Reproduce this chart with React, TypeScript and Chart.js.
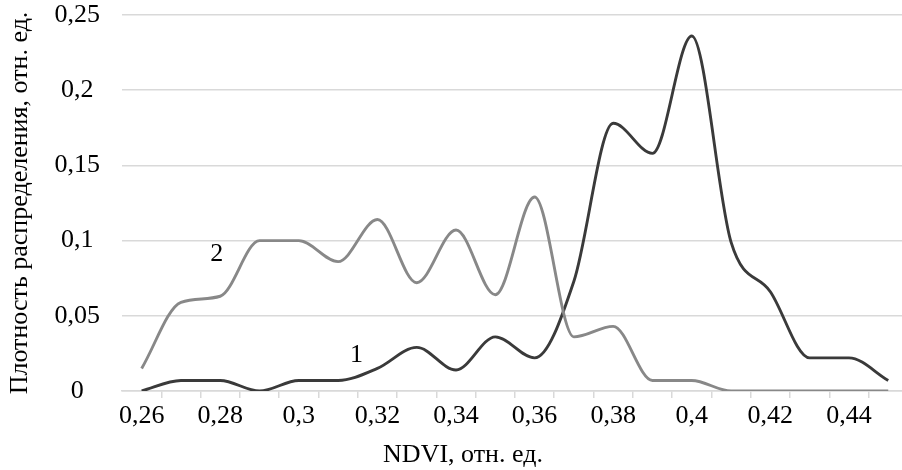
import React, { useEffect, useRef } from "react";
import { Chart, registerables } from "chart.js";

Chart.register(...registerables);

// NDVI categories (x values)
const NDVI = [0.26, 0.27, 0.28, 0.29, 0.3, 0.31, 0.32, 0.33, 0.34, 0.35, 0.36, 0.37, 0.38, 0.39, 0.4, 0.41, 0.42, 0.43, 0.44, 0.45];
// Series 1 (dark)
const SERIES_1 = [0, 0.007, 0.007, 0, 0.007, 0.007, 0.015, 0.029, 0.014, 0.036, 0.022, 0.073, 0.178, 0.158, 0.236, 0.099, 0.066, 0.022, 0.022, 0.007];
// Series 2 (gray)
const SERIES_2 = [0.015, 0.059, 0.063, 0.1, 0.1, 0.086, 0.114, 0.072, 0.107, 0.064, 0.129, 0.036, 0.043, 0.007, 0.007, 0, 0, 0, 0, 0];
// Tick labels on the x axis and tick marks between categories
const X_LABEL_TICKS = [0.26, 0.28, 0.3, 0.32, 0.34, 0.36, 0.38, 0.4, 0.42, 0.44];
const X_MARK_TICKS = [0.265, 0.275, 0.285, 0.295, 0.305, 0.315, 0.325, 0.335, 0.345, 0.355, 0.365, 0.375, 0.385, 0.395, 0.405, 0.415, 0.425, 0.435, 0.445];
const Y_TICKS = [0, 0.05, 0.1, 0.15, 0.2, 0.25];
// Curve labels anchored in data coordinates
const CURVE_LABELS = [
  { text: "1", x: 0.3147, y: 0.024 },
  { text: "2", x: 0.2791, y: 0.091 },
];
const X_TITLE = "NDVI, отн. ед.";
const Y_TITLE = "Плотность распределения, отн. ед.";

const FONT = "'Liberation Serif', 'Times New Roman', serif";
const GRID = "#d9d9d9";

const fmt = (v: number) => String(+v.toFixed(3)).replace(".", ",");

export default function App() {
  const ref = useRef<HTMLCanvasElement | null>(null);
  useEffect(() => {
    if (!ref.current) return;
    const labelSet = new Set(X_LABEL_TICKS.map((v) => v.toFixed(3)));
    const allTicks = [...X_LABEL_TICKS, ...X_MARK_TICKS].sort((a, b) => a - b);

    const textPlugin = {
      id: "textPlugin",
      afterDatasetsDraw(chart: any) {
        const { ctx, scales, chartArea } = chart;
        ctx.save();
        ctx.font = `26px ${FONT}`;
        ctx.fillStyle = "#000";
        ctx.textAlign = "center";
        ctx.textBaseline = "middle";
        CURVE_LABELS.forEach((l) => {
          ctx.fillText(l.text, scales.x.getPixelForValue(l.x), scales.y.getPixelForValue(l.y));
        });
        // x axis title (centered a little left of the visible axis centre, as in the source)
        ctx.fillText(X_TITLE, chartArea.left + 341, chart.height - 15);
        ctx.restore();
      },
    };

    const chart = new Chart(ref.current, {
      type: "line",
      data: {
        datasets: [
          {
            label: "1",
            data: NDVI.map((x, i) => ({ x, y: SERIES_1[i] })),
            borderColor: "#3a3a3a",
            borderWidth: 2.9,
            pointRadius: 0,
            cubicInterpolationMode: "monotone",
            fill: false,
            order: 1,
          },
          {
            label: "2",
            data: NDVI.map((x, i) => ({ x, y: SERIES_2[i] })),
            borderColor: "#888888",
            borderWidth: 2.9,
            pointRadius: 0,
            cubicInterpolationMode: "monotone",
            fill: false,
            order: 0,
          },
        ],
      },
      options: {
        animation: false,
        responsive: false,
        layout: { padding: { top: 15, left: 0, right: 0, bottom: 0 } },
        plugins: { legend: { display: false }, tooltip: { enabled: false } },
        scales: {
          x: {
            type: "linear",
            min: 0.255,
            max: 0.4535,
            afterBuildTicks: (s: any) => {
              s.ticks = allTicks.map((v) => ({ value: v }));
            },
            afterFit: (s: any) => {
              s.height = 79;
              s.paddingLeft = 0;
              s.paddingRight = 0;
            },
            border: { display: true, color: GRID, width: 1.5 },
            grid: {
              drawOnChartArea: false,
              drawTicks: true,
              tickLength: 7,
              lineWidth: 1.5,
              color: (c: any) => (c.tick && labelSet.has(Number(c.tick.value).toFixed(3)) ? "rgba(0,0,0,0)" : GRID),
            },
            ticks: {
              autoSkip: false,
              maxRotation: 0,
              padding: 3,
              color: "#000",
              font: { family: FONT, size: 26 },
              callback: (v: any) => (labelSet.has(Number(v).toFixed(3)) ? fmt(Number(v)) : ""),
            },
            title: { display: false },
          },
          y: {
            min: 0,
            max: 0.25,
            afterBuildTicks: (s: any) => {
              s.ticks = Y_TICKS.map((v) => ({ value: v }));
            },
            afterFit: (s: any) => {
              s.width = 122;
              s.paddingTop = 0;
              s.paddingBottom = 0;
            },
            border: { display: false },
            grid: { color: GRID, lineWidth: 1.5, drawTicks: false },
            ticks: {
              crossAlign: "center",
              padding: 22,
              color: "#000",
              font: { family: FONT, size: 26 },
              callback: (v: any) => fmt(Number(v)),
            },
            title: {
              display: true,
              text: Y_TITLE,
              color: "#000",
              font: { family: FONT, size: 26 },
              padding: { top: 5, bottom: 0 },
            },
          },
        },
      },
      plugins: [textPlugin],
    });
    return () => chart.destroy();
  }, []);

  return (
    <div style={{ position: "absolute", left: 0, top: 0, width: 902, height: 470, background: "#fff" }}>
      <canvas ref={ref} width={902} height={470} style={{ display: "block" }} />
    </div>
  );
}
